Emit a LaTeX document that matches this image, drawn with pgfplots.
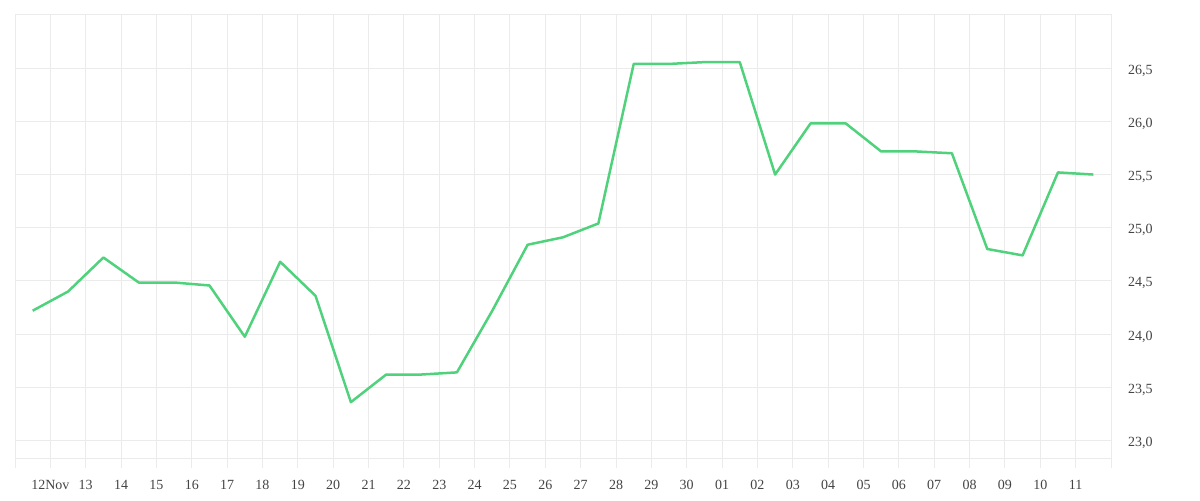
\documentclass[border=0pt]{standalone}
\usepackage{pgfplots}
\pgfplotsset{compat=1.18}
\usepackage{fontspec}
\setmainfont{Liberation Serif}
\definecolor{gridc}{HTML}{EBEBEB}
\definecolor{linec}{RGB}{80,210,125}
\definecolor{labc}{HTML}{444444}
\begin{document}
\begin{tikzpicture}
\path[use as bounding box] (0pt,0pt) rectangle (600pt,250pt);
\begin{axis}[
  at={(7.5pt,21pt)}, anchor=south west,
  scale only axis, width=548pt, height=221.5pt,
  xmin=0, xmax=31, ymin=22.835, ymax=27.0,
  xtick={0,...,31},
  xticklabels={,12Nov,13,14,15,16,17,18,19,20,21,22,23,24,25,26,27,28,29,30,01,02,03,04,05,06,07,08,09,10,11,},
  ytick={23,23.5,24,24.5,25,25.5,26,26.5,27},
  yticklabels={23{,}0,23{,}5,24{,}0,24{,}5,25{,}0,25{,}5,26{,}0,26{,}5,},
  xmajorgrids, ymajorgrids,
  grid style={gridc, line width=0.5pt},
  axis line style={gridc, line width=0.5pt},
  xtick pos=bottom, ytick pos=right, yticklabel pos=right,
  tick align=outside,
  xtick style={gridc, line width=0.5pt},
  ytick style={draw=none},
  major tick length=5pt,
  ticklabel style={font=\fontsize{7pt}{8pt}\selectfont, text=labc},
  xticklabel style={anchor=north, yshift=-2.5pt},
  yticklabel style={anchor=west, xshift=0pt, yshift=-1.2pt},
  /pgf/number format/assume math mode=true,
  clip=false,
]
\addplot[linec, line width=1.25pt, line join=round] coordinates {
(0.5,24.22) (1.5,24.40) (2.5,24.72) (3.5,24.485) (4.5,24.485) (5.5,24.457)
(6.5,23.975) (7.5,24.68) (8.5,24.36) (9.5,23.36) (10.5,23.62) (11.5,23.62)
(12.5,23.64) (13.5,24.22) (14.5,24.84) (15.5,24.91) (16.5,25.04) (17.5,26.54)
(18.5,26.54) (19.5,26.557) (20.5,26.557) (21.5,25.50) (22.5,25.98) (23.5,25.98)
(24.5,25.717) (25.5,25.717) (26.5,25.70) (27.5,24.80) (28.5,24.74) (29.5,25.52)
(30.5,25.50)
};
\end{axis}
\end{tikzpicture}
\end{document}
